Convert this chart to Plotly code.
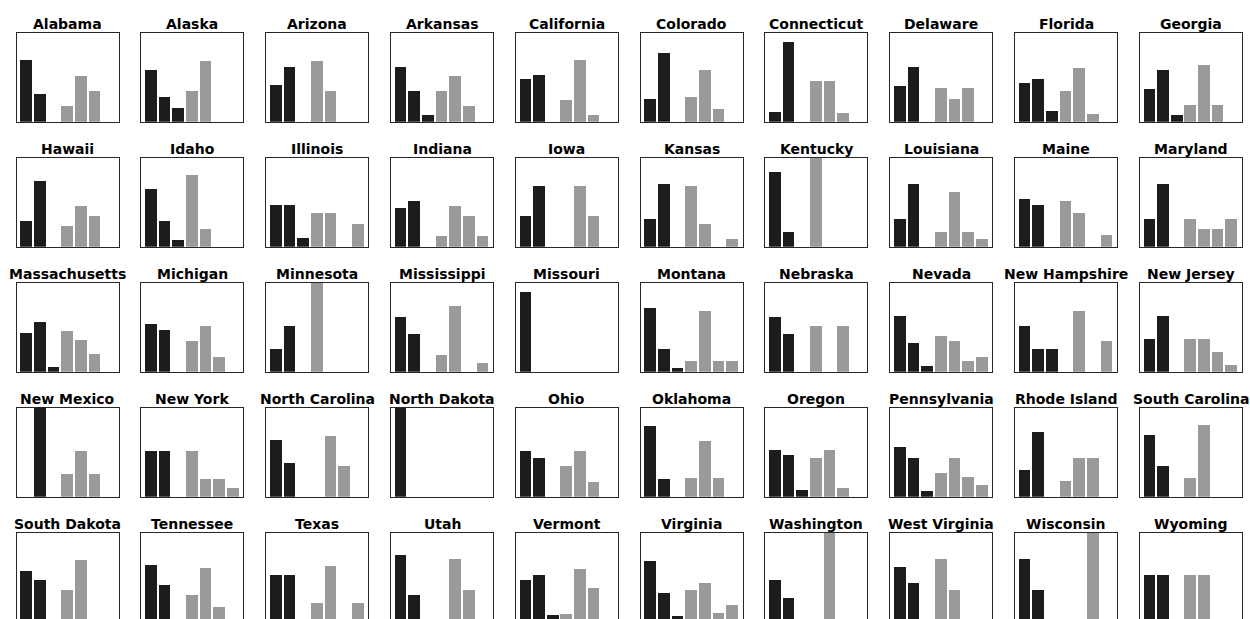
import plotly.graph_objects as go

states = [
    "Alabama", "Alaska", "Arizona", "Arkansas", "California", "Colorado", "Connecticut", "Delaware", "Florida", "Georgia",
    "Hawaii", "Idaho", "Illinois", "Indiana", "Iowa", "Kansas", "Kentucky", "Louisiana", "Maine", "Maryland",
    "Massachusetts", "Michigan", "Minnesota", "Mississippi", "Missouri", "Montana", "Nebraska", "Nevada", "New Hampshire", "New Jersey",
    "New Mexico", "New York", "North Carolina", "North Dakota", "Ohio", "Oklahoma", "Oregon", "Pennsylvania", "Rhode Island", "South Carolina",
    "South Dakota", "Tennessee", "Texas", "Utah", "Vermont", "Virginia", "Washington", "West Virginia", "Wisconsin", "Wyoming",
]

# three dark bars per state
dark_values = [
    [0.69, 0.31, 0.00], [0.58, 0.28, 0.15], [0.41, 0.61, 0.00], [0.61, 0.34, 0.07], [0.48, 0.52, 0.00],
    [0.26, 0.77, 0.00], [0.11, 0.89, 0.00], [0.40, 0.62, 0.00], [0.43, 0.48, 0.12], [0.37, 0.58, 0.07],
    [0.29, 0.74, 0.00], [0.65, 0.29, 0.08], [0.47, 0.47, 0.10], [0.44, 0.51, 0.00], [0.34, 0.68, 0.00],
    [0.31, 0.70, 0.00], [0.84, 0.17, 0.00], [0.31, 0.70, 0.00], [0.54, 0.47, 0.00], [0.31, 0.71, 0.00],
    [0.43, 0.56, 0.05], [0.54, 0.47, 0.00], [0.26, 0.51, 0.00], [0.61, 0.42, 0.00], [0.89, 0.00, 0.00],
    [0.72, 0.26, 0.04], [0.61, 0.42, 0.00], [0.63, 0.32, 0.06], [0.51, 0.26, 0.26], [0.37, 0.63, 0.00],
    [0.00, 1.00, 0.00], [0.51, 0.51, 0.00], [0.64, 0.38, 0.00], [1.00, 0.00, 0.00], [0.51, 0.43, 0.00],
    [0.79, 0.20, 0.00], [0.52, 0.47, 0.08], [0.56, 0.43, 0.06], [0.30, 0.73, 0.00], [0.69, 0.35, 0.00],
    [0.57, 0.47, 0.00], [0.64, 0.41, 0.00], [0.52, 0.52, 0.00], [0.75, 0.30, 0.00], [0.47, 0.52, 0.08],
    [0.68, 0.32, 0.06], [0.47, 0.27, 0.00], [0.62, 0.43, 0.00], [0.70, 0.36, 0.00], [0.53, 0.53, 0.00],
]

# four gray bars per state
gray_values = [
    [0.18, 0.51, 0.34, 0.00], [0.34, 0.68, 0.00, 0.00], [0.68, 0.34, 0.00, 0.00], [0.34, 0.51, 0.18, 0.00], [0.24, 0.69, 0.08, 0.00],
    [0.28, 0.58, 0.14, 0.00], [0.46, 0.46, 0.10, 0.00], [0.38, 0.26, 0.38, 0.00], [0.34, 0.60, 0.09, 0.00], [0.19, 0.64, 0.19, 0.00],
    [0.23, 0.46, 0.34, 0.00], [0.81, 0.20, 0.00, 0.00], [0.38, 0.38, 0.00, 0.26], [0.12, 0.46, 0.34, 0.12], [0.00, 0.68, 0.34, 0.00],
    [0.68, 0.26, 0.00, 0.09], [1.00, 0.00, 0.00, 0.00], [0.16, 0.62, 0.16, 0.09], [0.51, 0.38, 0.00, 0.13], [0.31, 0.20, 0.20, 0.31],
    [0.46, 0.36, 0.20, 0.00], [0.34, 0.51, 0.17, 0.00], [1.00, 0.00, 0.00, 0.00], [0.19, 0.74, 0.00, 0.10], [0.00, 0.00, 0.00, 0.00],
    [0.12, 0.68, 0.12, 0.12], [0.51, 0.00, 0.51, 0.00], [0.40, 0.34, 0.12, 0.17], [0.00, 0.68, 0.00, 0.34], [0.37, 0.37, 0.22, 0.08],
    [0.26, 0.51, 0.26, 0.00], [0.51, 0.20, 0.20, 0.10], [0.00, 0.68, 0.34, 0.00], [0.00, 0.00, 0.00, 0.00], [0.34, 0.51, 0.17, 0.00],
    [0.21, 0.63, 0.21, 0.00], [0.44, 0.52, 0.10, 0.00], [0.27, 0.44, 0.22, 0.13], [0.18, 0.44, 0.44, 0.00], [0.21, 0.81, 0.00, 0.00],
    [0.36, 0.69, 0.00, 0.00], [0.30, 0.60, 0.16, 0.00], [0.21, 0.63, 0.00, 0.21], [0.00, 0.70, 0.36, 0.00], [0.09, 0.59, 0.38, 0.00],
    [0.36, 0.44, 0.10, 0.19], [0.00, 1.00, 0.00, 0.00], [0.70, 0.36, 0.00, 0.00], [0.00, 0.00, 1.00, 0.00], [0.53, 0.53, 0.00, 0.00],
]

categories = ["c1", "c2", "c3", "c4", "c5", "c6", "c7"]
dark_categories = categories[:3]
gray_categories = categories[3:]

# ---- layout geometry (pixels) ----
W, H = 1250, 619
NCOL = 10
X0, XSTEP, BOXW = 16.6, 124.8, 102.0
Y0, YSTEP, BOXH = 32.7, 125.0, 89.0
YMAX = 1.0
DARK = "#1c1c1c"
GRAY = "#9a9a9a"
LINE = "#262626"

fig = go.Figure()
layout = {}
annotations = []

for i, st in enumerate(states):
    r, c = divmod(i, NCOL)
    left = X0 + c * XSTEP
    right = left + BOXW
    top = Y0 + r * YSTEP
    bottom = top + BOXH
    vis_bottom = min(bottom, H)
    ylo = (bottom - vis_bottom) / BOXH * YMAX
    cut = bottom > H
    sfx = "" if i == 0 else str(i + 1)

    fig.add_trace(go.Bar(x=dark_categories, y=dark_values[i], marker=dict(color=DARK, line=dict(width=0)),
                         xaxis="x" + sfx, yaxis="y" + sfx, showlegend=False, hoverinfo="skip"))
    fig.add_trace(go.Bar(x=gray_categories, y=gray_values[i], marker=dict(color=GRAY, line=dict(width=0)),
                         xaxis="x" + sfx, yaxis="y" + sfx, showlegend=False, hoverinfo="skip"))

    layout["xaxis" + sfx] = dict(
        domain=[left / W, right / W], type="category", categoryorder="array", categoryarray=categories,
        range=[-0.7, 6.77], showticklabels=False, ticks="", showgrid=False, zeroline=False,
        showline=True, linecolor=LINE, linewidth=1, mirror=(not cut), side=("top" if cut else "bottom"),
        anchor="y" + sfx, fixedrange=True,
    )
    layout["yaxis" + sfx] = dict(
        domain=[1 - vis_bottom / H, 1 - top / H], range=[ylo, YMAX], showticklabels=False, ticks="",
        showgrid=False, zeroline=False, showline=True, linecolor=LINE, linewidth=1, mirror=True,
        anchor="x" + sfx, fixedrange=True,
    )
    annotations.append(dict(
        text="<b>%s</b>" % st, x=(left + right) / 2 / W, y=1 - (top - 9.0) / H, xref="paper", yref="paper",
        xanchor="center", yanchor="middle", showarrow=False,
        font=dict(family="DejaVu Sans, Liberation Sans, Arial", size=14, color="#000000"),
    ))

fig.update_layout(
    width=W, height=H, margin=dict(l=0, r=0, t=0, b=0),
    paper_bgcolor="white", plot_bgcolor="white",
    barmode="stack", bargap=0.143, showlegend=False,
    annotations=annotations, **layout,
)

fig.write_html(
    "out.html",
    config={"displayModeBar": False, "staticPlot": True},
    post_script="document.body.style.margin='0';document.body.style.overflow='hidden';",
)
